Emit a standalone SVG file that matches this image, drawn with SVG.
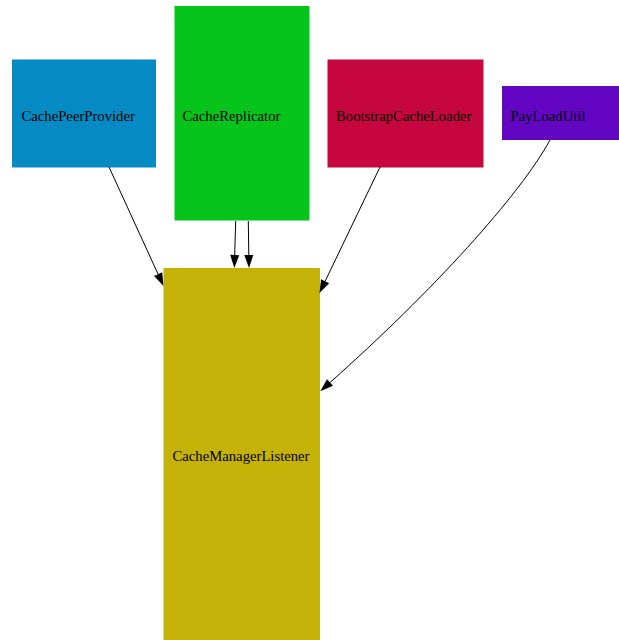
<svg xmlns="http://www.w3.org/2000/svg" width="619" height="640" viewBox="0 0 619 640">
  <style>
    .label { font-family: "Liberation Serif", "Times New Roman", serif; font-size: 14.7px; fill: #000; }
    .edge { fill: none; stroke: #000; stroke-width: 1; marker-end: url(#arrow); }
  </style>
  <defs>
    <marker id="arrow" markerUnits="userSpaceOnUse" markerWidth="14" markerHeight="10" refX="0" refY="4.5" orient="auto" overflow="visible">
      <path d="M0,0 L13,4.5 L0,9 Z" fill="#000"/>
    </marker>
  </defs>
  <rect width="619" height="640" fill="#fff"/>

  <!-- nodes -->
  <g id="CachePeerProvider">
    <rect x="12" y="59.5" width="144" height="108" fill="#068AC4"/>
    <text class="label" x="21.5" y="120.5">CachePeerProvider</text>
  </g>
  <g id="CacheReplicator">
    <rect x="174.5" y="6" width="135" height="214.5" fill="#06C41A"/>
    <text class="label" x="182.5" y="120.5">CacheReplicator</text>
  </g>
  <g id="BootstrapCacheLoader">
    <rect x="327.5" y="59.5" width="156" height="108" fill="#C6063E"/>
    <text class="label" x="336" y="120.5">BootstrapCacheLoader</text>
  </g>
  <g id="PayLoadUtil">
    <rect x="502" y="86" width="117" height="54" fill="#6206C4"/>
    <text class="label" x="510.5" y="120.5">PayLoadUtil</text>
  </g>
  <g id="CacheManagerListener">
    <rect x="163.5" y="268" width="156.5" height="372" fill="#C4B206"/>
    <text class="label" x="172.5" y="460.5">CacheManagerListener</text>
  </g>

  <!-- connectors -->
  <g id="edges">
    <path class="edge" d="M109,167 L158.1,274.2"/>
    <path class="edge" d="M235.7,221 L234.7,255"/>
    <path class="edge" d="M248.3,221 L248.8,255"/>
    <path class="edge" d="M380,167 L325.1,281.3"/>
    <path class="edge" d="M550,140 C520,195 433,291 330,382.5"/>
  </g>
</svg>
